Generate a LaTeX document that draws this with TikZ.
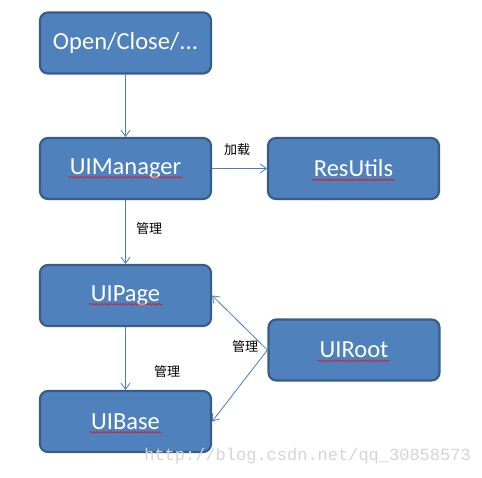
\documentclass[tikz,border=0pt]{standalone}
\usepackage{fontspec}
\setmainfont{Carlito}
\newfontfamily\cjk{Noto Sans CJK SC}
\newfontfamily\wm{Liberation Mono}
\usetikzlibrary{arrows.meta,decorations.pathmorphing}
\definecolor{boxfill}{HTML}{4F81BD}
\definecolor{boxedge}{HTML}{385D8A}
\definecolor{linec}{HTML}{4A7EBB}
\definecolor{wmgray}{HTML}{D4D4D4}
\tikzset{
  blk/.style={draw=boxedge, line width=2.2pt, fill=boxfill, rounded corners=8pt,
    minimum width=171pt, minimum height=61pt, inner sep=0pt},
  txt/.style={text=white, font=\fontsize{24.5}{28}\selectfont, inner sep=0pt},
  conn/.style={draw=linec, line width=0.8pt, -{Straight Barb[length=6pt,width=9pt]}},
  lbl/.style={font=\cjk\fontsize{13}{15}\selectfont, text=black, inner sep=0pt},
  squig/.style={draw=red, line width=0.5pt, decorate, decoration={snake, amplitude=0.8pt, segment length=3pt}},
}
\begin{document}
\begin{tikzpicture}[x=1pt,y=-1pt]
\useasboundingbox (0,0) rectangle (482,477);
\node[blk] (open) at (125.5,43) {};
\node[blk] (mgr) at (125.5,168.5) {};
\node[blk] (res) at (353.5,168.5) {};
\node[blk] (page) at (125.5,295.5) {};
\node[blk] (root) at (354,350) {};
\node[blk] (base) at (125.5,421.5) {};
\node[txt] (openT) at (open) {Open/Close/...};
\node[txt] (mgrT) at (mgr) {UIManager};
\node[txt] (resT) at (res) {ResUtils};
\node[txt] (pageT) at (page) {UIPage};
\node[txt] (rootT) at (root) {UIRoot};
\node[txt] (baseT) at (base) {UIBase};
\foreach \n in {mgrT, resT, pageT, rootT, baseT}{
  \draw[squig] ([xshift=-1.5pt,yshift=-3pt]\n.base west) -- ([xshift=1.5pt,yshift=-3pt]\n.base east);
}
\draw[conn] (open) -- (mgr);
\draw[conn] (mgr) -- (res);
\draw[conn] (mgr) -- (page);
\draw[conn] (page) -- (base);
\draw[conn] (root.west) -- (page.east);
\draw[conn] (root.west) -- (base.east);
\node[lbl] (l1) at (237,150) {加载};
\node[lbl] (l2) at (149,229) {管理};
\node[lbl] (l3) at (167,372) {管理};
\node[lbl] (l4) at (245,347) {管理};
\node[font=\wm\fontsize{17}{19}\selectfont, text=wmgray, anchor=east, inner sep=0pt] (wm) at (471,456) {http://blog.csdn.net/qq\_30858573};
\end{tikzpicture}
\end{document}
